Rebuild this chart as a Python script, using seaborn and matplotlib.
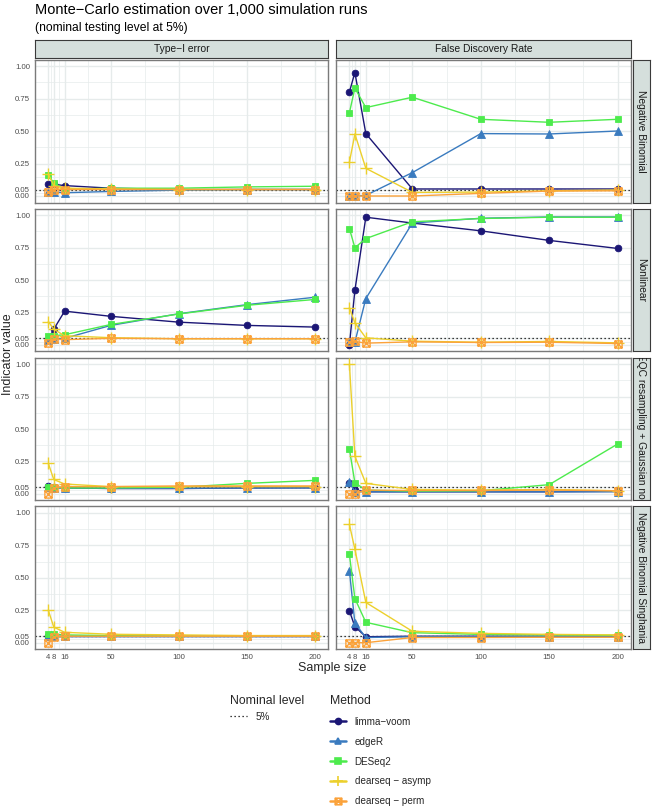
import numpy as np
import pandas as pd
import seaborn as sns
import matplotlib
matplotlib.use("Agg")
import matplotlib.pyplot as plt
from matplotlib.path import Path
from matplotlib.lines import Line2D

sns.set_theme(style="white")
plt.rcParams["font.family"] = ["Liberation Sans", "DejaVu Sans"]

# ---------------- data ----------------
sample_sizes = [4, 8, 16, 50, 100, 150, 200]
methods = ["limma\u2212voom", "edgeR", "DESeq2", "dearseq \u2212 asymp", "dearseq \u2212 perm"]
indicators = ["Type\u2212I error", "False Discovery Rate"]
scenarios = ["Negative Binomial", "Nonlinear", "SEQC resampling + Gaussian noise",
             "Negative Binomial Singhania"]

# Type-I error -- Negative Binomial
t1_nb_limma = [0.095, 0.09, 0.08, 0.06, 0.05, 0.05, 0.05]
t1_nb_edger = [0.03, 0.03, 0.025, 0.035, 0.045, 0.05, 0.05]
t1_nb_deseq = [0.16, 0.10, 0.05, 0.06, 0.06, 0.07, 0.075]
t1_nb_asymp = [0.17, 0.08, 0.06, 0.055, 0.05, 0.05, 0.05]
t1_nb_perm = [0.03, 0.05, 0.05, 0.05, 0.05, 0.05, 0.05]
# FDR -- Negative Binomial
fdr_nb_limma = [0.80, 0.95, 0.48, 0.054, 0.054, 0.054, 0.054]
fdr_nb_edger = [0.0, 0.0, 0.005, 0.18, 0.48, 0.477, 0.50]
fdr_nb_deseq = [0.64, 0.83, 0.68, 0.76, 0.59, 0.567, 0.59]
fdr_nb_asymp = [0.26, 0.477, 0.213, 0.028, 0.03, 0.04, 0.046]
fdr_nb_perm = [0.0, 0.0, 0.0, 0.0, 0.02, 0.038, 0.04]
# Type-I error -- Nonlinear
t1_nl_limma = [0.04, 0.12, 0.26, 0.22, 0.175, 0.15, 0.137]
t1_nl_edger = [0.04, 0.045, 0.05, 0.15, 0.24, 0.31, 0.367]
t1_nl_deseq = [0.067, 0.07, 0.078, 0.157, 0.238, 0.305, 0.35]
t1_nl_asymp = [0.18, 0.12, 0.07, 0.055, 0.047, 0.047, 0.047]
t1_nl_perm = [0.015, 0.045, 0.04, 0.05, 0.047, 0.047, 0.047]
# FDR -- Nonlinear
fdr_nl_limma = [0.0, 0.42, 0.985, 0.94, 0.88, 0.806, 0.744]
fdr_nl_edger = [0.02, 0.02, 0.357, 0.94, 0.977, 0.987, 0.987]
fdr_nl_deseq = [0.897, 0.75, 0.82, 0.95, 0.975, 0.985, 0.985]
fdr_nl_asymp = [0.287, 0.17, 0.054, 0.028, 0.02, 0.026, 0.015]
fdr_nl_perm = [0.02, 0.026, 0.013, 0.023, 0.018, 0.02, 0.01]
# Type-I error -- SEQC
t1_sq_limma = [0.06, 0.05, 0.046, 0.04, 0.04, 0.045, 0.046]
t1_sq_edger = [0.05, 0.045, 0.045, 0.042, 0.042, 0.045, 0.045]
t1_sq_deseq = [0.05, 0.05, 0.045, 0.045, 0.05, 0.08, 0.103]
t1_sq_asymp = [0.235, 0.11, 0.075, 0.055, 0.055, 0.055, 0.055]
t1_sq_perm = [0.0, 0.046, 0.055, 0.055, 0.06, 0.06, 0.06]
# FDR -- SEQC
fdr_sq_limma = [0.085, 0.028, 0.015, 0.015, 0.015, 0.015, 0.018]
fdr_sq_edger = [0.09, 0.015, 0.015, 0.015, 0.015, 0.015, 0.015]
fdr_sq_deseq = [0.345, 0.085, 0.028, 0.02, 0.023, 0.07, 0.384]
fdr_sq_asymp = [1.0, 0.29, 0.08, 0.033, 0.028, 0.033, 0.023]
fdr_sq_perm = [0.0, 0.0, 0.028, 0.025, 0.025, 0.028, 0.023]
# Type-I error -- NB Singhania
t1_sg_limma = [0.05, 0.05, 0.05, 0.05, 0.05, 0.05, 0.05]
t1_sg_edger = [0.05, 0.05, 0.05, 0.05, 0.05, 0.05, 0.05]
t1_sg_deseq = [0.07, 0.065, 0.06, 0.055, 0.05, 0.05, 0.05]
t1_sg_asymp = [0.25, 0.12, 0.08, 0.065, 0.06, 0.055, 0.055]
t1_sg_perm = [0.0, 0.046, 0.05, 0.05, 0.05, 0.05, 0.05]
# FDR -- NB Singhania
fdr_sg_limma = [0.245, 0.124, 0.046, 0.05, 0.05, 0.05, 0.05]
fdr_sg_edger = [0.554, 0.15, 0.04, 0.046, 0.046, 0.046, 0.046]
fdr_sg_deseq = [0.68, 0.34, 0.157, 0.077, 0.064, 0.06, 0.057]
fdr_sg_asymp = [0.91, 0.72, 0.31, 0.088, 0.072, 0.064, 0.06]
fdr_sg_perm = [0.0, 0.0, 0.0, 0.04, 0.04, 0.042, 0.042]

nominal_level = 0.05
y_ticks = [0.0, 0.05, 0.25, 0.5, 0.75, 1.0]
y_tick_labels = ["0.00", "0.05", "0.25", "0.50", "0.75", "1.00"]

panels = {
    (0, 0): [t1_nb_limma, t1_nb_edger, t1_nb_deseq, t1_nb_asymp, t1_nb_perm],
    (0, 1): [fdr_nb_limma, fdr_nb_edger, fdr_nb_deseq, fdr_nb_asymp, fdr_nb_perm],
    (1, 0): [t1_nl_limma, t1_nl_edger, t1_nl_deseq, t1_nl_asymp, t1_nl_perm],
    (1, 1): [fdr_nl_limma, fdr_nl_edger, fdr_nl_deseq, fdr_nl_asymp, fdr_nl_perm],
    (2, 0): [t1_sq_limma, t1_sq_edger, t1_sq_deseq, t1_sq_asymp, t1_sq_perm],
    (2, 1): [fdr_sq_limma, fdr_sq_edger, fdr_sq_deseq, fdr_sq_asymp, fdr_sq_perm],
    (3, 0): [t1_sg_limma, t1_sg_edger, t1_sg_deseq, t1_sg_asymp, t1_sg_perm],
    (3, 1): [fdr_sg_limma, fdr_sg_edger, fdr_sg_deseq, fdr_sg_asymp, fdr_sg_perm],
}

rows = []
for (r, c), series in panels.items():
    for m, vals in zip(methods, series):
        for n, v in zip(sample_sizes, vals):
            rows.append({"scenario": scenarios[r], "indicator": indicators[c],
                         "method": m, "n": n, "value": v})
df = pd.DataFrame(rows)

# ---------------- styles ----------------
colors = {methods[0]: "#1b1675", methods[1]: "#3a7bbf", methods[2]: "#4deb4d",
          methods[3]: "#ecd02c", methods[4]: "#fba23a"}
sq_x = Path([(-1, -1), (1, -1), (1, 1), (-1, 1), (-1, -1), (-1, -1), (1, 1), (-1, 1), (1, -1)],
            [Path.MOVETO, Path.LINETO, Path.LINETO, Path.LINETO, Path.CLOSEPOLY,
             Path.MOVETO, Path.LINETO, Path.MOVETO, Path.LINETO])
marker_kw = {
    methods[0]: dict(marker="o", markersize=4.8, markerfacecolor=colors[methods[0]]),
    methods[1]: dict(marker="^", markersize=5.2, markerfacecolor=colors[methods[1]]),
    methods[2]: dict(marker="s", markersize=4.8, markerfacecolor=colors[methods[2]]),
    methods[3]: dict(marker="+", markersize=8.5, markerfacecolor="none"),
    methods[4]: dict(marker=sq_x, markersize=5.2, markerfacecolor="none"),
}

W, H = 652, 809
fig = plt.figure(figsize=(W / 100, H / 100), dpi=100)
fig.patch.set_facecolor("white")


def fbox(x0, y0, x1, y1):
    return [x0 / W, 1 - y1 / H, (x1 - x0) / W, (y1 - y0) / H]


col_x = [(35, 328), (336, 631)]
row_y = [(59.5, 202.5), (208.8, 351.3), (357.8, 500.2), (506.3, 649.2)]
strip_fc = "#d5dfdc"
strip_ec = "#3a3a3a"
border_c = "#7a7a7a"
grid_c = "#e6ebeb"
minor_y = [0.025, 0.15, 0.375, 0.625, 0.875]
minor_x = [6, 12, 33, 75, 125, 175]

for r in range(4):
    for c in range(2):
        ax = fig.add_axes(fbox(col_x[c][0], row_y[r][0], col_x[c][1], row_y[r][1]))
        ax.set_facecolor("white")
        for v in minor_y:
            ax.axhline(v, color=grid_c, lw=0.5, zorder=0)
        for v in minor_x:
            ax.axvline(v, color=grid_c, lw=0.5, zorder=0)
        for v in y_ticks:
            ax.axhline(v, color=grid_c, lw=1.0, zorder=0)
        for v in sample_sizes:
            ax.axvline(v, color=grid_c, lw=1.0, zorder=0)
        ax.axhline(nominal_level, color="black", lw=0.9, ls=(0, (1, 2.2)), zorder=1)
        sub = df[(df.scenario == scenarios[r]) & (df.indicator == indicators[c])]
        for m in methods:
            d = sub[sub.method == m]
            sns.lineplot(data=d, x="n", y="value", ax=ax, color=colors[m], lw=1.0,
                         markeredgecolor=colors[m],
                         markeredgewidth=1.0 if m in methods[3:] else 0.6,
                         legend=False, errorbar=None, zorder=3, **marker_kw[m])
        ax.set_xlim(-5.8, 209.8)
        ax.set_ylim(-0.05, 1.05)
        ax.set_xlabel("")
        ax.set_ylabel("")
        ax.grid(False)
        for s in ax.spines.values():
            s.set_color(border_c)
            s.set_linewidth(1.0)
        ax.set_yticks(y_ticks)
        ax.set_xticks(sample_sizes)
        ax.tick_params(axis="both", length=2.2, width=0.6, color="#333333",
                       labelsize=5.6, labelcolor="#4d4d4d", pad=1.5)
        if c == 0:
            ax.set_yticklabels(y_tick_labels)
        else:
            ax.tick_params(axis="y", left=False, labelleft=False)
        if r == 3:
            ax.set_xticklabels([str(s) for s in sample_sizes])
        else:
            ax.tick_params(axis="x", bottom=False, labelbottom=False)

# strips
for c in range(2):
    sax = fig.add_axes(fbox(col_x[c][0], 40, col_x[c][1], 57.5))
    sax.set_facecolor(strip_fc)
    sax.set_xticks([]); sax.set_yticks([])
    for s in sax.spines.values():
        s.set_color(strip_ec); s.set_linewidth(0.8)
    sax.text(0.5, 0.5, indicators[c], ha="center", va="center", fontsize=7.4,
             color="#1a1a1a", transform=sax.transAxes)
for r in range(4):
    sax = fig.add_axes(fbox(632.5, row_y[r][0], 650, row_y[r][1]))
    sax.set_facecolor(strip_fc)
    sax.set_xticks([]); sax.set_yticks([])
    for s in sax.spines.values():
        s.set_color(strip_ec); s.set_linewidth(0.8)
    sax.text(0.5, 0.5, scenarios[r], ha="center", va="center", fontsize=7.4,
             color="#1a1a1a", rotation=-90, transform=sax.transAxes, clip_on=True)

# titles & labels
fig.text(35 / W, 1 - 3 / H, "Monte\u2212Carlo estimation over 1,000 simulation runs",
         ha="left", va="top", fontsize=10.5, color="black")
fig.text(35 / W, 1 - 22 / H, "(nominal testing level at 5%)",
         ha="left", va="top", fontsize=8.7, color="black")
fig.text(332 / W, 1 - 668 / H, "Sample size", ha="center", va="center", fontsize=9)
fig.text(8 / W, 1 - 354 / H, "Indicator value", ha="center", va="center",
         rotation=90, fontsize=9)

# legends
nom_handle = [Line2D([0], [0], color="black", lw=0.9, ls=(0, (1, 2.2)))]
leg1 = fig.legend(nom_handle, ["5%"], title="Nominal level", loc="upper left",
                  bbox_to_anchor=(227 / W, 1 - 692 / H), frameon=False, fontsize=7.1,
                  title_fontsize=8.8, handlelength=1.7, handletextpad=0.9,
                  alignment="left", borderaxespad=0, borderpad=0.3)
meth_handles = [Line2D([0], [0], color=colors[m], lw=1.8, markeredgecolor=colors[m],
                       markeredgewidth=1.2, **{**marker_kw[m],
                                                "markersize": marker_kw[m]["markersize"] * 0.9})
                for m in methods]
leg2 = fig.legend(meth_handles, methods, title="Method", loc="upper left",
                  bbox_to_anchor=(327 / W, 1 - 692 / H), frameon=False, fontsize=7.1,
                  title_fontsize=8.8, handlelength=1.6, handletextpad=0.9,
                  labelspacing=1.0, alignment="left", borderaxespad=0, borderpad=0.3)

fig.savefig("out.png", dpi=100, facecolor="white")
